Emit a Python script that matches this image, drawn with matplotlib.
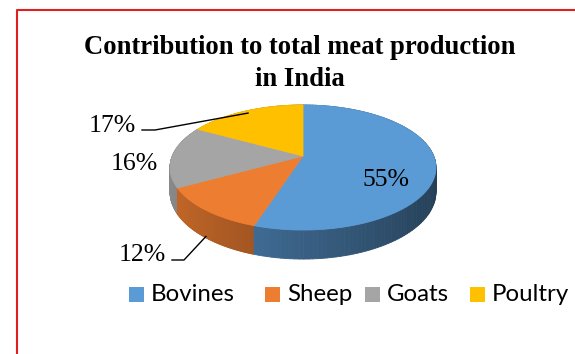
import numpy as np
import matplotlib.pyplot as plt
from matplotlib.patches import Polygon, Rectangle
from matplotlib.collections import PolyCollection
from matplotlib.colors import to_rgb

# data
categories = ['Bovines', 'Sheep', 'Goats', 'Poultry']
shares = [55, 12, 16, 17]
colors = ['#5B9BD5', '#ED7D31', '#A5A5A5', '#FFC000']
title = 'Contribution to total meat production\nin India'

# pie geometry (pixels) - perspective disk
cx, cy = 303, 156
a, b, k = 130.7, 60.4, 0.184
depth = 23.7

def proj(t, r=1.0, z=0.0):
    u = r*np.cos(t)
    v = r*np.sin(t)
    w = 1 - k*v
    return cx + a*u/w, cy + (b*v + z)/w

fig = plt.figure(figsize=(5.75, 3.54), dpi=100)
ax = fig.add_axes([0, 0, 1, 1])
ax.set_xlim(0, 575)
ax.set_ylim(354, 0)
ax.axis('off')

# red frame
ax.plot([17, 17, 575], [354, 10, 10], color='#E02020', lw=1.5, solid_capstyle='butt')

total = float(sum(shares))
angles = [-90.0]
for s in shares:
    angles.append(angles[-1] + 360*s/total)
angles = np.radians(angles)

# side walls
quads, qcols, qdepth = [], [], []
for i in range(len(shares)):
    ts = np.linspace(angles[i], angles[i+1], 120)
    base = np.array(to_rgb(colors[i]))
    for t1, t2 in zip(ts[:-1], ts[1:]):
        x1, y1 = proj(t1)
        x2, y2 = proj(t2)
        x3, y3 = proj(t2, z=depth)
        x4, y4 = proj(t1, z=depth)
        quads.append([(x1, y1), (x2, y2), (x3, y3), (x4, y4)])
        f = 0.62 - 0.22*np.cos((t1+t2)/2)
        qcols.append(np.clip(base*f, 0, 1))
        qdepth.append(np.sin((t1+t2)/2))
order = np.argsort(qdepth)
pc = PolyCollection([quads[j] for j in order], facecolors=[qcols[j] for j in order],
                    edgecolors=[qcols[j] for j in order], linewidths=0.6)
ax.add_collection(pc)

# top faces
for i in range(len(shares)):
    ts = np.linspace(angles[i], angles[i+1], 200)
    xs, ys = proj(ts)
    pts = [(cx, cy)] + list(zip(xs, ys))
    ax.add_patch(Polygon(pts, closed=True, facecolor=colors[i],
                         edgecolor=colors[i], lw=0.6))

# data labels
serif = 'Liberation Serif'
lab = ['%d%%' % s for s in shares]
fs = 18.5
ax.text(386, 180, lab[0], fontsize=fs, family=serif, ha='center', va='center')
ax.text(112, 126, lab[3], fontsize=fs, family=serif, ha='center', va='center')
ax.text(134, 164, lab[2], fontsize=fs, family=serif, ha='center', va='center')
ax.text(142, 255, lab[1], fontsize=fs, family=serif, ha='center', va='center')

# leader lines
mid_p = (angles[3] + angles[4])/2
ex, ey = proj(mid_p, r=0.95)
ax.plot([142, 155, ex], [130, 130, ey], color='black', lw=1)
mid_s = (angles[1] + angles[2])/2
ex, ey = proj(mid_s, z=depth*0.95)
ax.plot([172, 184, ex], [260, 260, ey], color='black', lw=1)

# title
for j, line in enumerate(title.split('\n')):
    ax.text(300, 48 + 32*j, line, fontsize=19.2, family=serif, fontweight='bold',
            ha='center', va='center')

# legend
sq_x = [129, 265, 365, 470]
for i, name in enumerate(categories):
    ax.add_patch(Rectangle((sq_x[i], 287), 15, 15, facecolor=colors[i], edgecolor='none'))
    ax.text(sq_x[i] + 22, 294.5, name, fontsize=17.3, family='Lato', ha='left', va='center')

fig.savefig('out.png', dpi=100)
